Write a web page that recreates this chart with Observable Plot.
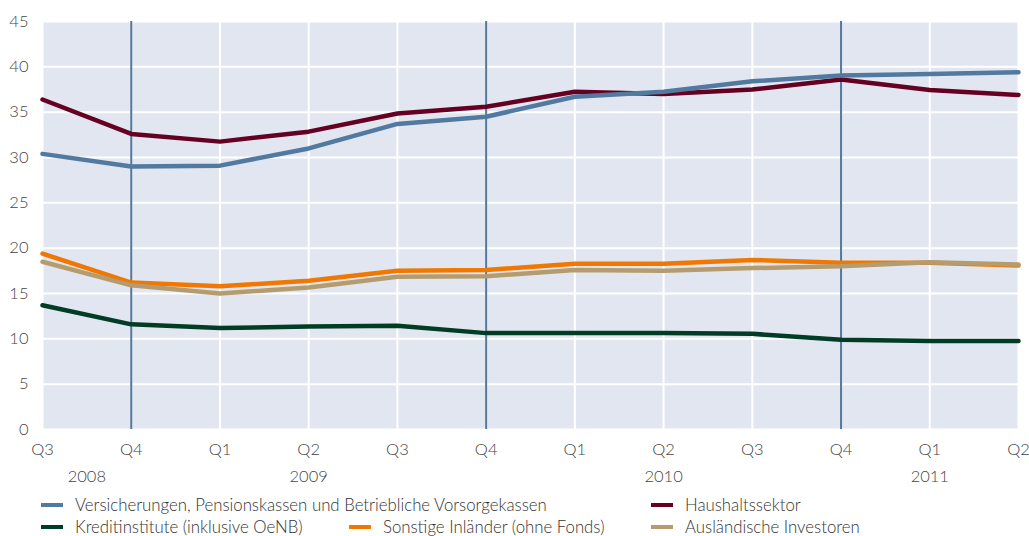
<!DOCTYPE html>
<html><head><meta charset="utf-8">
<script src="https://cdn.jsdelivr.net/npm/d3@7"></script>
<script src="https://cdn.jsdelivr.net/npm/@observablehq/plot@0.6"></script>
<style>
body{margin:0;background:#fff;font-family:Lato,"Open Sans",sans-serif;}
#wrap{position:relative;width:1029px;height:536px;}
#legend{position:absolute;left:0;top:494px;width:1029px;height:44px;font-size:16.8px;color:#333;font-weight:300;}
.item{position:absolute;height:22px;line-height:22px;white-space:nowrap;}
.sw{position:absolute;left:0;top:9px;width:22px;height:4px;}
.lab{position:absolute;left:34px;top:0;}
</style></head><body><div id="wrap"><div id="chart"></div><div id="legend"></div></div>
<script>
const quarters = ["Q3","Q4","Q1","Q2","Q3","Q4","Q1","Q2","Q3","Q4","Q1","Q2"];
const years = ["2008","2009","2010","2011"];
const yearAnchor = [0.5, 3, 7, 10];
const seriesNames = [
  "Versicherungen, Pensionskassen und Betriebliche Vorsorgekassen",
  "Haushaltssektor",
  "Kreditinstitute (inklusive OeNB)",
  "Sonstige Inländer (ohne Fonds)",
  "Ausländische Investoren"
];
const seriesColors = ["#52799f", "#650022", "#003d24", "#f07800", "#b49c6f"];
const versicherungen = [30.4, 29.0, 29.1, 31.0, 33.7, 34.5, 36.7, 37.25, 38.4, 39.05, 39.2, 39.4];
const haushalt       = [36.4, 32.6, 31.75, 32.85, 34.85, 35.6, 37.25, 37.0, 37.5, 38.6, 37.45, 36.9];
const kredit         = [13.7, 11.6, 11.2, 11.35, 11.45, 10.63, 10.63, 10.63, 10.55, 9.9, 9.75, 9.75];
const sonstige       = [19.4, 16.2, 15.8, 16.4, 17.5, 17.6, 18.27, 18.27, 18.7, 18.4, 18.4, 18.1];
const auslaendisch   = [18.5, 15.9, 15.0, 15.65, 16.85, 16.9, 17.6, 17.5, 17.8, 18.0, 18.45, 18.2];
const seriesValues = [versicherungen, haushalt, kredit, sonstige, auslaendisch];

const rows = [];
seriesNames.forEach((name, s) => seriesValues[s].forEach((v, i) => rows.push({series: name, i, v})));
const drawOrder = [2, 1, 3, 4, 0];
const idx = d3.range(quarters.length);
const q4 = idx.filter(i => quarters[i] === "Q4");

const chart = Plot.plot({
  width: 1029,
  height: 488,
  marginTop: 21,
  marginBottom: 59,
  marginLeft: 42,
  marginRight: 11,
  style: {fontFamily: "Lato, 'Open Sans', sans-serif", fontSize: "16.5px", color: "#444", fontWeight: 300},
  x: {type: "linear", domain: [0, quarters.length - 1]},
  y: {domain: [0, 45]},
  color: {domain: seriesNames, range: seriesColors},
  marks: [
    Plot.frame({fill: "#e1e6f0", stroke: "none"}),
    Plot.gridY(d3.range(0, 46, 5), {stroke: "#fff", strokeOpacity: 1, strokeWidth: 2}),
    Plot.gridX(idx, {stroke: "#fff", strokeOpacity: 1, strokeWidth: 2}),
    Plot.ruleX(q4, {stroke: "#52799f", strokeWidth: 2}),
    Plot.axisY(d3.range(0, 46, 5), {tickSize: 0, tickPadding: 14, fontSize: 16.5, label: null}),
    Plot.axisX(idx, {tickSize: 0, tickPadding: 14, fontSize: 16.5, label: null, tickFormat: i => quarters[i]}),
    Plot.text(years, {x: (d, i) => yearAnchor[i], y: 0, dy: 47, text: d => d, fontSize: 16.5, lineAnchor: "middle", fill: "#444"}),
    ...drawOrder.map(s => Plot.line(rows.filter(r => r.series === seriesNames[s]), {x: "i", y: "v", stroke: seriesColors[s], strokeWidth: 4.5, strokeLinejoin: "round"}))
  ]
});
document.getElementById("chart").appendChild(chart);

const legendLayout = [
  {s: 0, left: 41, row: 0},
  {s: 1, left: 651, row: 0},
  {s: 2, left: 41, row: 1},
  {s: 3, left: 349, row: 1},
  {s: 4, left: 651, row: 1}
];
const lg = document.getElementById("legend");
legendLayout.forEach(o => {
  const it = document.createElement("div");
  it.className = "item";
  it.style.left = o.left + "px";
  it.style.top = (o.row * 22) + "px";
  it.innerHTML = `<span class="sw" style="background:${seriesColors[o.s]}"></span><span class="lab">${seriesNames[o.s]}</span>`;
  lg.appendChild(it);
});
</script></body></html>
